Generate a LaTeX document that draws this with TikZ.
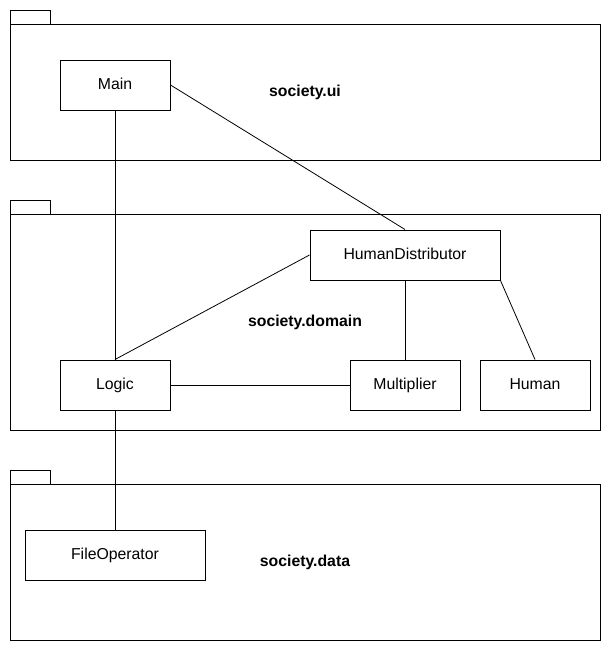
\documentclass[tikz,border=0pt]{standalone}
\usepackage{fontspec}
\setmainfont{Liberation Sans}
\begin{document}
\begin{tikzpicture}[x=1pt,y=-1pt,
  every node/.style={font=\fontsize{15.8}{18}\selectfont},
  cls/.style={draw=black, line width=1pt, fill=white, rectangle, minimum height=50pt, inner sep=0pt, text height=11.5pt, text depth=3.5pt},
  pkg/.style={draw=black, line width=1pt, rectangle, inner sep=0pt, font=\fontsize{15.8}{18}\selectfont\bfseries},
  tab/.style={draw=black, line width=1pt, rectangle, inner sep=0pt, minimum width=40pt, minimum height=14pt},
  conn/.style={draw=black, line width=0.8pt}]
\useasboundingbox (0,0) rectangle (611,651);
% packages
\node[tab] (uitab) at (30,17) {};
\node[pkg, minimum width=590pt, minimum height=136pt] (ui) at (305,92) {society.ui};
\node[tab] (domtab) at (30,207) {};
\node[pkg, minimum width=590pt, minimum height=216pt] (dom) at (305,322) {society.domain};
\node[tab] (datatab) at (30,477) {};
\node[pkg, minimum width=590pt, minimum height=156pt] (data) at (305,562) {society.data};
% classes
\node[cls, minimum width=110pt] (main) at (115,85) {Main};
\node[cls, minimum width=190pt] (hd) at (405,255) {HumanDistributor};
\node[cls, minimum width=110pt] (logic) at (115,385) {Logic};
\node[cls, minimum width=110pt] (mult) at (405,385) {Multiplier};
\node[cls, minimum width=110pt] (human) at (535,385) {Human};
\node[cls, minimum width=180pt] (file) at (115,555) {FileOperator};
% connectors
\draw[conn] (main.south) -- (logic.north);
\draw[conn] (main.east) -- (hd.north);
\draw[conn] (hd.west) -- (logic.north);
\draw[conn] (hd.south) -- (mult.north);
\draw[conn] (hd.south east) -- (human.north);
\draw[conn] (logic.east) -- (mult.west);
\draw[conn] (logic.south) -- (file.north);
\end{tikzpicture}
\end{document}
